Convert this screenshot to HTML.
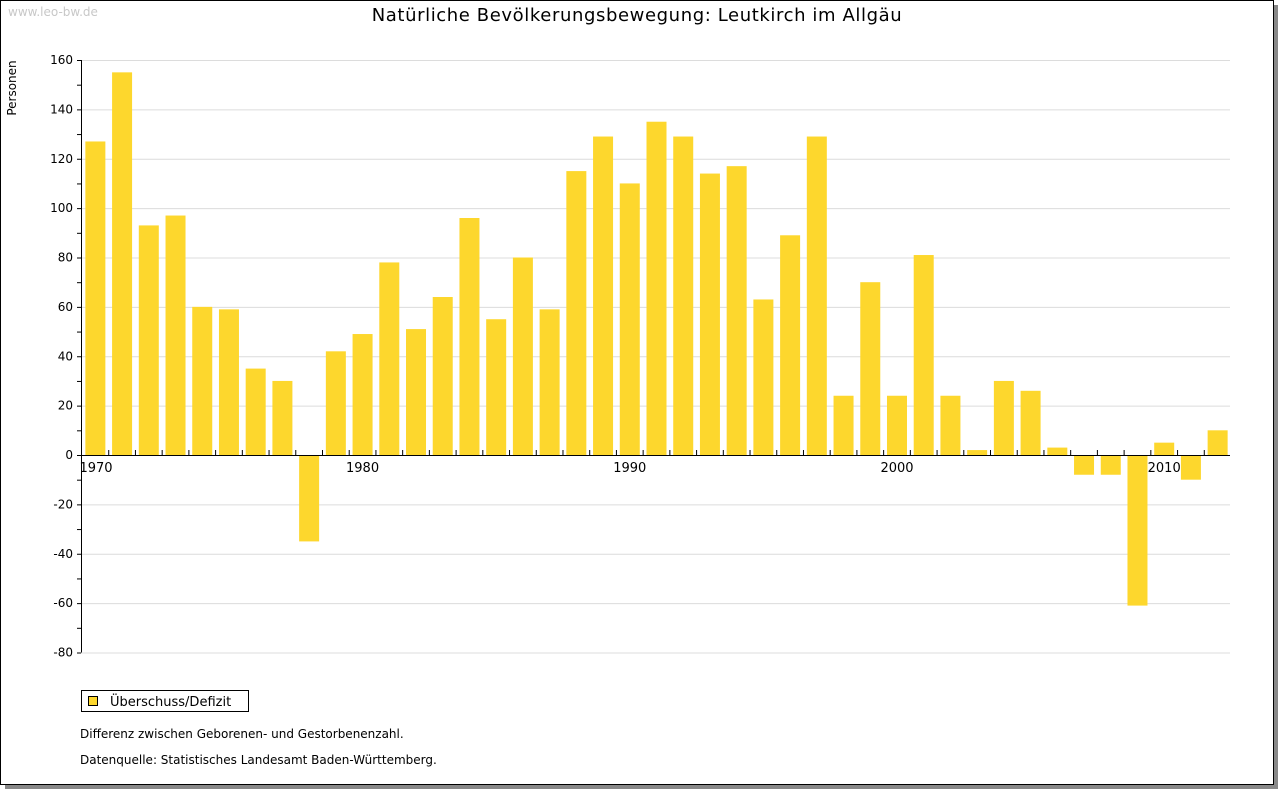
<!DOCTYPE html>
<html><head><meta charset="utf-8"><style>
body{margin:0;background:#fff;font-family:"DejaVu Sans","Liberation Sans",sans-serif;}
#wrap{position:relative;width:1280px;height:791px;overflow:hidden;}
</style></head><body>
<div id="wrap">
<svg id="chart" width="1280" height="791" style="font-family:'DejaVu Sans','Liberation Sans',sans-serif">
<rect x="5" y="5" width="1273" height="784" fill="#888"/>
<rect x="0.5" y="0.5" width="1273" height="784" fill="#fff" stroke="#000"/>
<text x="8" y="16" font-size="12" fill="#c8c8c8">www.leo-bw.de</text>
<text x="637" y="21" font-size="18" text-anchor="middle" fill="#000" letter-spacing="0.6">Natürliche Bevölkerungsbewegung: Leutkirch im Allgäu</text>
<text transform="translate(16,88) rotate(-90)" font-size="12" text-anchor="middle">Personen</text>
<g id="grid"></g><g id="bars"></g><g id="axes"></g>
<rect x="81.5" y="690.5" width="167" height="21" fill="#fff" stroke="#000"/>
<rect x="88.5" y="696.5" width="9" height="9" fill="#fdd72d" stroke="#000"/>
<text x="110" y="706" font-size="13">Überschuss/Defizit</text>
<text x="80" y="738" font-size="12">Differenz zwischen Geborenen- und Gestorbenenzahl.</text>
<text x="80" y="764" font-size="12">Datenquelle: Statistisches Landesamt Baden-Württemberg.</text>
</svg>
</div>
<script>
const years=[1970,1971,1972,1973,1974,1975,1976,1977,1978,1979,1980,1981,1982,1983,1984,1985,1986,1987,1988,1989,1990,1991,1992,1993,1994,1995,1996,1997,1998,1999,2000,2001,2002,2003,2004,2005,2006,2007,2008,2009,2010,2011,2012];
const values=[127,155,93,97,60,59,35,30,-35,42,49,78,51,64,96,55,80,59,115,129,110,135,129,114,117,63,89,129,24,70,24,81,24,2,30,26,3,-8,-8,-61,5,-10,10];
const yTicks=[160,140,120,100,80,60,40,20,0,-20,-40,-60,-80];
const xLabels=[1970,1980,1990,2000,2010];
const NS='http://www.w3.org/2000/svg';
const x0=81,x1=1230,yTop=60,yBot=652.5,vMax=160,vMin=-80;
const slot=(x1-x0)/years.length;
const y=v=>yTop+(vMax-v)/(vMax-vMin)*(yBot-yTop);
const xc=yr=>x0+1+(years.indexOf(yr)+0.5)*slot;
function mk(t,a,p){const e=document.createElementNS(NS,t);for(const k in a)e.setAttribute(k,a[k]);p.appendChild(e);return e;}
const grid=document.getElementById('grid'),bars=document.getElementById('bars'),axes=document.getElementById('axes');
yTicks.forEach(v=>{
  const l=mk('line',{x1:x0,x2:x1,y1:y(v)+0.5,y2:y(v)+0.5,stroke:'#dcdcdc'},grid);
  
  
  const t=mk('text',{x:73,y:y(v)+4,'font-size':12,'text-anchor':'end'},axes);
  t.textContent=v;
  
  
});
for(let v=vMin;v<=vMax;v+=10){
  const tk=mk('line',{x1:x0-4,x2:x0,y1:y(v)+0.5,y2:y(v)+0.5,stroke:'#000'},axes);
  
  
}
years.forEach((yr,i)=>{
  const v=values[i],c=xc(yr);
  const r=mk('rect',{x:c-10,y:Math.min(y(v),y(0)),width:20,height:Math.abs(y(v)-y(0)),fill:'#fdd72d'},bars);
  
  
  if(i>0){const tk=mk('line',{x1:x0+1+i*slot,x2:x0+1+i*slot,y1:y(0)-5,y2:y(0),stroke:'#000'},axes);
  
  }
});
const ya=mk('line',{x1:x0+0.5,x2:x0+0.5,y1:yTop,y2:yBot,stroke:'#000'},axes);


const xa=mk('line',{x1:x0,x2:x1,y1:y(0)+0.5,y2:y(0)+0.5,stroke:'#000'},axes);


xLabels.forEach(yr=>{
  const t=mk('text',{x:Math.max(xc(yr),96),y:y(0)+17,'font-size':13,'text-anchor':'middle'},axes);
  t.textContent=yr;
  
  
});
</script>
</body></html>
